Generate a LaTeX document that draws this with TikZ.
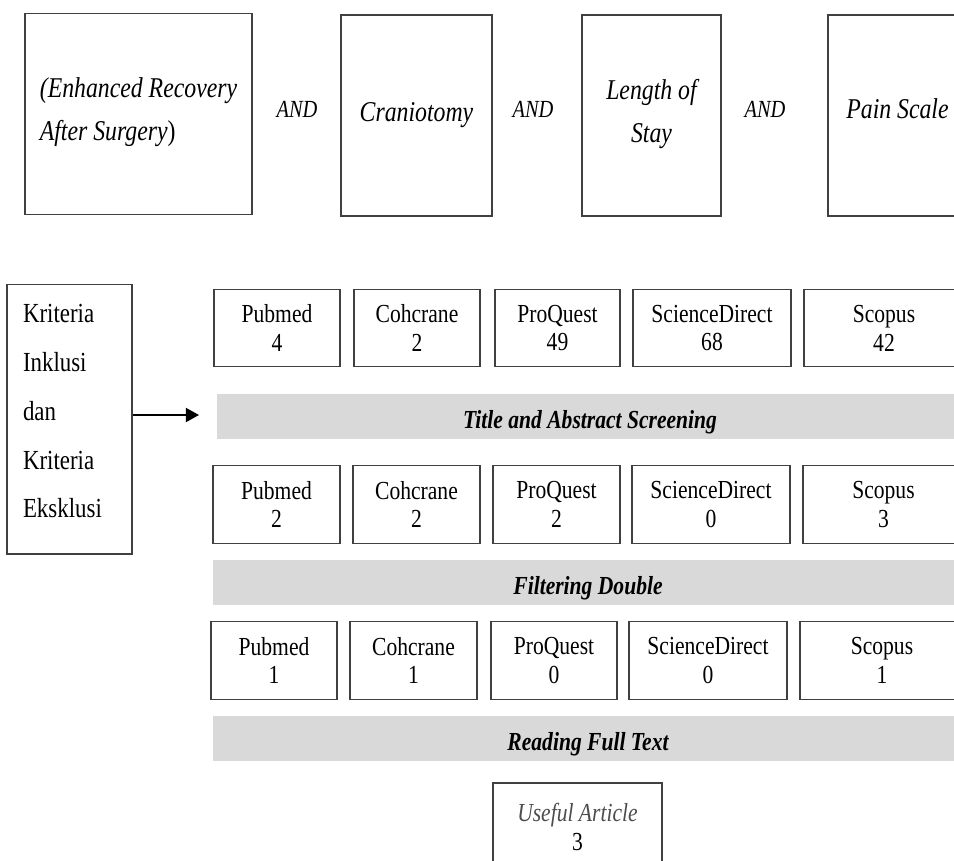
\documentclass[tikz,border=0pt]{standalone}
\usepackage{fontspec}
\setmainfont{Liberation Serif}[FakeStretch=0.83]
\usetikzlibrary{arrows.meta}
\definecolor{boxline}{HTML}{404040}
\definecolor{barfill}{HTML}{D9D9D9}
\newcommand{\lowstrut}[1]{\rule[-#1]{0pt}{#1}}

\begin{document}
\begin{tikzpicture}[x=0.02cm,y=-0.02cm,
    termbox/.style={draw=boxline,line width=0.6pt,inner sep=0pt,minimum height=4.02cm,align=center,font=\fontsize{16.3}{24.4}\selectfont\itshape},
    andtext/.style={inner sep=0pt,anchor=base,font=\fontsize{14}{16}\selectfont\itshape},
    dbbox/.style={draw=boxline,line width=0.6pt,inner sep=0pt,minimum height=1.55cm,align=center,font=\fontsize{14.8}{16.4}\selectfont},
    stagebar/.style={fill=barfill,inner sep=0pt,text height=0.68cm,text depth=0.22cm,font=\fontsize{14.8}{17}\selectfont\bfseries\itshape}]
        \path[use as bounding box] (0,0) rectangle (954,860);
        \clip (0,0) rectangle (954,860);

        % Search terms
        \node[termbox,minimum width=4.54cm,align=left] (eras) at (138.5,114) {\textit{(Enhanced Recovery}\\\textit{After Surgery}\upshape)\lowstrut{6pt}};
        \node[andtext] (and1) at (297,117) {AND};
        \node[termbox,minimum width=3.02cm] (cranio) at (416.5,115.5) {Craniotomy};
        \node[andtext] (and2) at (533,117) {AND};
        \node[termbox,minimum width=2.78cm] (los) at (651.5,115.5) {Length of\\Stay\lowstrut{5pt}};
        \node[andtext] (and3) at (765,117) {AND};
        \node[termbox,minimum width=2.78cm] (pain) at (897.5,115.5) {Pain Scale\lowstrut{8pt}};

        % Criteria
        \node[draw=boxline,line width=0.6pt,inner sep=0pt,minimum width=2.5cm,minimum height=5.4cm,text width=1.86cm,align=left,font=\fontsize{15.7}{27.8}\selectfont] (kriteria) at (69.5,419) {Kriteria\\Inklusi\\dan\\Kriteria\\Eksklusi\lowstrut{9pt}};
        \coordinate (screenin) at (199,415);
        \draw[line width=1.1pt,-{Triangle[length=7.5pt,width=8pt]}] (kriteria.east |- screenin) -- (screenin);

        % Databases, first search
        \node[dbbox,minimum width=2.52cm] (pub1) at (277,328) {Pubmed\\4};
        \node[dbbox,minimum width=2.52cm] (coch1) at (417,328) {Cohcrane\\2};
        \node[dbbox,minimum width=2.5cm] (proq1) at (557.5,328) {ProQuest\\49};
        \node[dbbox,minimum width=3.16cm] (scid1) at (712,328) {ScienceDirect\\68};
        \node[dbbox,minimum width=3.2cm] (scop1) at (884,328) {Scopus\\42};

        \node[stagebar,minimum width=14.92cm] (screening) at (590,416.5) {Title and Abstract Screening};

        % After screening
        \node[dbbox,minimum width=2.54cm] (pub2) at (276.5,504.5) {Pubmed\\2};
        \node[dbbox,minimum width=2.54cm] (coch2) at (416.5,504.5) {Cohcrane\\2};
        \node[dbbox,minimum width=2.54cm] (proq2) at (556.5,504.5) {ProQuest\\2};
        \node[dbbox,minimum width=3.16cm] (scid2) at (711,504.5) {ScienceDirect\\0};
        \node[dbbox,minimum width=3.22cm] (scop2) at (883.5,504.5) {Scopus\\3};

        \node[stagebar,minimum width=15cm] (doubles) at (588,582.5) {Filtering Double};

        % After doubles
        \node[dbbox,minimum width=2.52cm] (pub3) at (274,660.5) {Pubmed\\1};
        \node[dbbox,minimum width=2.54cm] (coch3) at (413.5,660.5) {Cohcrane\\1};
        \node[dbbox,minimum width=2.52cm] (proq3) at (554,660.5) {ProQuest\\0};
        \node[dbbox,minimum width=3.16cm] (scid3) at (708,660.5) {ScienceDirect\\0};
        \node[dbbox,minimum width=3.28cm] (scop3) at (882,660.5) {Scopus\\1};

        \node[stagebar,minimum width=15cm] (fulltext) at (588,738.5) {Reading Full Text};

        % Result
        \node[dbbox,minimum width=3.38cm,minimum height=1.76cm] (useful) at (577.5,827) {{\color{black!70}\itshape Useful Article}\\3};
    \end{tikzpicture}
\end{document}
